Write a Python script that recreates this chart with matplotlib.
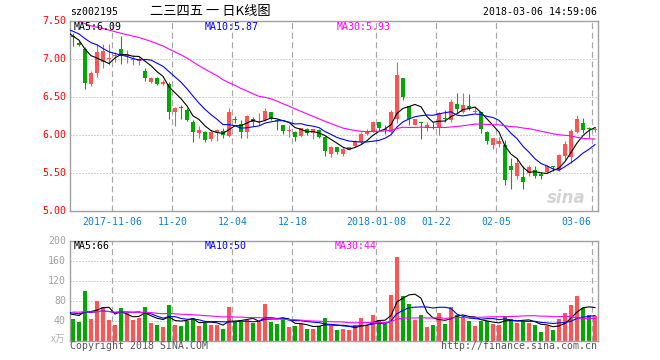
import numpy as np
import matplotlib
matplotlib.use('Agg')
import matplotlib.pyplot as plt

W, H = 660, 360

# ---------------- data ----------------
date_labels = ['2017-11-06', '11-20', '12-04', '12-18', '2018-01-08', '01-22', '02-05', '03-06']
date_index = [7, 17, 27, 37, 51, 61, 71, 87]

open_ = [7.30, 7.22, 7.14, 6.67, 6.82, 6.96, 7.00, 7.05, 7.13, 7.04,
         6.99, 6.98, 6.85, 6.70, 6.75, 6.68, 6.68, 6.31, 6.37, 6.33,
         6.18, 6.03, 6.05, 5.95, 6.05, 6.06, 5.99, 6.21, 6.15, 6.05,
         6.22, 6.17, 6.20, 6.31, 6.20, 6.14, 6.06, 6.05, 5.99, 6.08,
         6.03, 6.07, 5.98, 5.76, 5.84, 5.76, 5.81, 5.86, 5.91, 6.02,
         6.05, 6.17, 6.08, 6.05, 6.21, 6.76, 6.38, 6.14, 6.17, 6.11,
         6.14, 6.09, 6.23, 6.20, 6.41, 6.31, 6.39, 6.31, 6.31, 6.05,
         5.87, 5.89, 5.87, 5.60, 5.46, 5.45, 5.50, 5.54, 5.49, 5.52,
         5.59, 5.54, 5.73, 5.72, 6.05, 6.16, 6.09, 6.07]
high = [7.34, 7.24, 7.16, 6.84, 7.20, 7.20, 7.20, 7.10, 7.31, 7.12,
        7.06, 7.05, 6.88, 6.77, 6.77, 6.73, 6.70, 6.37, 6.40, 6.36,
        6.20, 6.12, 6.06, 6.07, 6.08, 6.09, 6.36, 6.25, 6.20, 6.27,
        6.24, 6.29, 6.36, 6.31, 6.22, 6.14, 6.14, 6.06, 6.10, 6.10,
        6.08, 6.08, 5.99, 5.86, 5.84, 5.84, 5.85, 5.94, 6.04, 6.08,
        6.19, 6.18, 6.13, 6.33, 6.96, 6.76, 6.39, 6.22, 6.18, 6.18,
        6.18, 6.31, 6.33, 6.48, 6.55, 6.56, 6.54, 6.37, 6.31, 6.05,
        5.97, 5.98, 5.94, 5.70, 5.70, 5.59, 5.61, 5.59, 5.52, 5.61,
        5.60, 5.76, 5.93, 6.08, 6.27, 6.23, 6.11, 6.11]
low = [7.17, 7.18, 6.61, 6.65, 6.77, 6.89, 6.93, 6.96, 6.94, 6.95,
       6.93, 6.93, 6.72, 6.69, 6.66, 6.66, 6.21, 6.12, 6.21, 6.19,
       5.91, 5.97, 5.91, 5.92, 5.93, 5.97, 5.98, 6.16, 5.97, 5.97,
       6.12, 6.14, 6.19, 6.20, 6.07, 6.02, 5.98, 5.92, 5.98, 6.01,
       5.95, 5.96, 5.73, 5.71, 5.76, 5.73, 5.80, 5.84, 5.89, 6.00,
       6.04, 6.07, 6.02, 6.03, 6.16, 6.47, 6.14, 6.14, 5.95, 6.06,
       6.08, 6.00, 6.17, 6.17, 6.29, 6.29, 6.33, 6.29, 6.03, 5.88,
       5.82, 5.84, 5.35, 5.29, 5.43, 5.29, 5.47, 5.44, 5.42, 5.51,
       5.53, 5.53, 5.68, 5.64, 6.03, 6.03, 5.97, 6.04]
close = [7.29, 7.19, 6.69, 6.82, 7.09, 7.11, 7.01, 7.06, 7.05, 7.07,
         7.01, 7.00, 6.75, 6.75, 6.68, 6.70, 6.31, 6.36, 6.36, 6.20,
         6.05, 6.07, 5.94, 6.05, 6.07, 6.00, 6.31, 6.20, 6.05, 6.25,
         6.18, 6.18, 6.32, 6.21, 6.19, 6.06, 6.07, 5.98, 6.09, 6.03,
         6.08, 5.98, 5.80, 5.84, 5.78, 5.82, 5.84, 5.92, 6.02, 6.05,
         6.17, 6.10, 6.07, 6.31, 6.79, 6.50, 6.22, 6.21, 6.16, 6.14,
         6.13, 6.29, 6.22, 6.44, 6.34, 6.40, 6.36, 6.32, 6.08, 5.92,
         5.97, 5.92, 5.41, 5.54, 5.64, 5.39, 5.58, 5.46, 5.46, 5.60,
         5.58, 5.74, 5.89, 6.06, 6.22, 6.07, 6.08, 6.08]
volume = [44, 38, 99, 44, 79, 68, 42, 32, 66, 56,
          41, 46, 68, 36, 32, 28, 72, 32, 30, 40,
          46, 30, 36, 32, 32, 24, 68, 38, 38, 42,
          36, 38, 74, 38, 34, 42, 28, 30, 34, 24,
          24, 30, 46, 30, 22, 24, 21, 31, 46, 30,
          52, 41, 34, 92, 167, 89, 74, 41, 52, 28,
          32, 56, 34, 68, 52, 46, 40, 30, 40, 40,
          34, 32, 50, 44, 36, 40, 36, 32, 18, 30,
          22, 44, 56, 72, 90, 66, 52, 50]
# estimated closes / volumes of the 29 sessions before the window (MA warm-up only)
prior_close = [7.80, 7.75, 7.70, 7.62, 7.60, 7.65, 7.70, 7.68, 7.62, 7.58,
               7.55, 7.50, 7.52, 7.58, 7.60, 7.55, 7.50, 7.48, 7.52, 7.55,
               7.55, 7.30, 7.35, 7.37, 7.60, 7.45, 7.28, 7.25, 7.25]
prior_volume = [50, 62, 70, 55, 48, 60, 66, 52, 58, 64,
                55, 49, 61, 72, 57, 50, 60, 54, 58, 59,
                55, 62, 54, 60, 59, 48, 59, 44, 65]

price_ticks = [5.0, 5.5, 6.0, 6.5, 7.0, 7.5]
price_tick_labels = ['5.00', '5.50', '6.00', '6.50', '7.00', '7.50']
vol_ticks = [40, 80, 120, 160, 200]
vol_tick_labels = ['40', '80', '120', '160', '200']
ma_periods = [5, 10, 30]
ma_colors = ['#000000', '#0000ff', '#ff00ff']
price_ma_labels = ['MA5:6.09', 'MA10:5.87', 'MA30:5.93']
vol_ma_labels = ['MA5:66', 'MA10:50', 'MA30:44']
stock_code = 'sz002195'
chart_title = '二三四五 一 日K线图'
timestamp = '2018-03-06 14:59:06'

# ---------------- helpers ----------------
UP = '#ff5454'
DOWN = '#00a800'
GRID = '#a8a8a8'
FRAME = '#a0a0a0'
MONO = 'DejaVu Sans Mono'
PX = 72 / 100.0  # points per pixel


def rect(x0, y0, x1, y1):
    return [x0 / W, 1 - y1 / H, (x1 - x0) / W, (y1 - y0) / H]


def ftext(x, y, s, **kw):
    fig.text(x / W, 1 - y / H, s, **kw)


def moving_average(prior, vals, n):
    full = np.array(prior + vals, dtype=float)
    out = np.full(full.shape, np.nan)
    c = np.cumsum(np.insert(full, 0, 0.0))
    out[n - 1:] = (c[n:] - c[:-n]) / n
    return out


fig = plt.figure(figsize=(W / 100, H / 100), dpi=100)
fig.patch.set_facecolor('white')

n = len(close)
idx = np.arange(n)
o = np.array(open_); c = np.array(close); hi = np.array(high); lo = np.array(low)
up = c >= o
colors = np.where(up, UP, DOWN)
x_full = np.arange(-len(prior_close), n)

XL = (-0.5, n - 0.5)

# ---------------- price panel ----------------
ax = fig.add_axes(rect(70, 21.3, 598, 211.3))
ax.set_xlim(*XL)
ax.set_ylim(5.0, 7.5)
for t in price_ticks[1:-1]:
    ax.axhline(t, color=GRID, lw=PX, ls=(0, (1, 2)), zorder=0)
for di in date_index:
    ax.axvline(di - 0.45, color=GRID, lw=PX * 1.2, ls=(0, (5, 3)), zorder=0)
ax.vlines(idx, lo, hi, colors=colors, lw=PX * 1.1, zorder=2)
body_h = np.maximum(np.abs(c - o), 0.012)
ax.bar(idx, body_h, bottom=np.minimum(o, c), width=0.8, color=colors,
       linewidth=0, zorder=3)
for p, col in zip(ma_periods, ma_colors):
    ma = moving_average(prior_close, close, p)
    ax.plot(x_full, ma, color=col, lw=PX * 1.1, zorder=4)
for s in ax.spines.values():
    s.set_color(FRAME); s.set_linewidth(PX * 1.4)
ax.set_xticks([]); ax.set_yticks([])

# ---------------- volume panel ----------------
av = fig.add_axes(rect(70, 240.5, 598, 340.5))
av.set_xlim(*XL)
av.set_ylim(0, 200)
for t in vol_ticks[:-1]:
    av.axhline(t, color=GRID, lw=PX, ls=(0, (1, 2)), zorder=0)
for di in date_index:
    av.axvline(di - 0.45, color=GRID, lw=PX * 1.2, ls=(0, (5, 3)), zorder=0)
av.bar(idx, volume, width=0.8, color=colors, linewidth=0, zorder=2)
for p, col in zip(ma_periods, ma_colors):
    ma = moving_average(prior_volume, volume, p)
    av.plot(x_full, ma, color=col, lw=PX * 1.1, zorder=4)
for s in av.spines.values():
    s.set_color(FRAME); s.set_linewidth(PX * 1.4)
av.set_xticks([]); av.set_yticks([])

# ---------------- texts ----------------
FS = 7.1
ftext(70, 12, stock_code, family=MONO, size=FS, color='#000000', va='center', ha='left')
ftext(150, 12, chart_title, family=['Noto Sans CJK SC', 'DejaVu Sans'], size=9.5,
      color='#000000', va='center', ha='left')
ftext(597, 12, timestamp, family=MONO, size=FS, color='#000000', va='center', ha='right')

y0p, y1p = 211.3, 21.3
for t, lab in zip(price_ticks, price_tick_labels):
    y = y0p + (t - 5.0) / 2.5 * (y1p - y0p)
    ftext(66, y, lab, family=MONO, size=FS, color='#ff0000', va='center', ha='right')

y0v, y1v = 340.5, 240.5
for t, lab in zip(vol_ticks, vol_tick_labels):
    y = y0v + t / 200 * (y1v - y0v)
    ftext(66, y, lab, family=MONO, size=FS, color='#a0a0a0', va='center', ha='right')
ftext(65, 339, 'x万', family=['Noto Sans CJK SC', 'DejaVu Sans'], size=7, color='#b0b0b0',
      va='center', ha='right')

for k, (di, lab) in enumerate(zip(date_index, date_labels)):
    x = 70 + (di - 0.45 - XL[0]) / (XL[1] - XL[0]) * 528
    if k == len(date_index) - 1:
        ftext(x - 1, 222, lab, family=MONO, size=FS, color='#0a82d0', va='center', ha='right')
    else:
        ftext(x, 222, lab, family=MONO, size=FS, color='#0a82d0', va='center', ha='center')

for xpos, lab, col in zip([74, 205, 337], price_ma_labels, ma_colors):
    ftext(xpos, 27.5, lab, family=MONO, size=FS, color=col, va='center', ha='left')
for xpos, lab, col in zip([74, 205, 335], vol_ma_labels, ma_colors):
    ftext(xpos, 246, lab, family=MONO, size=FS, color=col, va='center', ha='left')

ftext(70, 346, 'Copyright 2018 SINA.COM', family=MONO, size=FS, color='#555555',
      va='center', ha='left')
ftext(597, 346, 'http://finance.sina.com.cn', family=MONO, size=FS, color='#555555',
      va='center', ha='right')

# sina watermark
ftext(566, 198, 'sina', family='DejaVu Sans', size=12, style='italic', weight='bold',
      color='#d4d4d4', va='center', ha='center')

fig.savefig('out.png', dpi=100, facecolor='white')
